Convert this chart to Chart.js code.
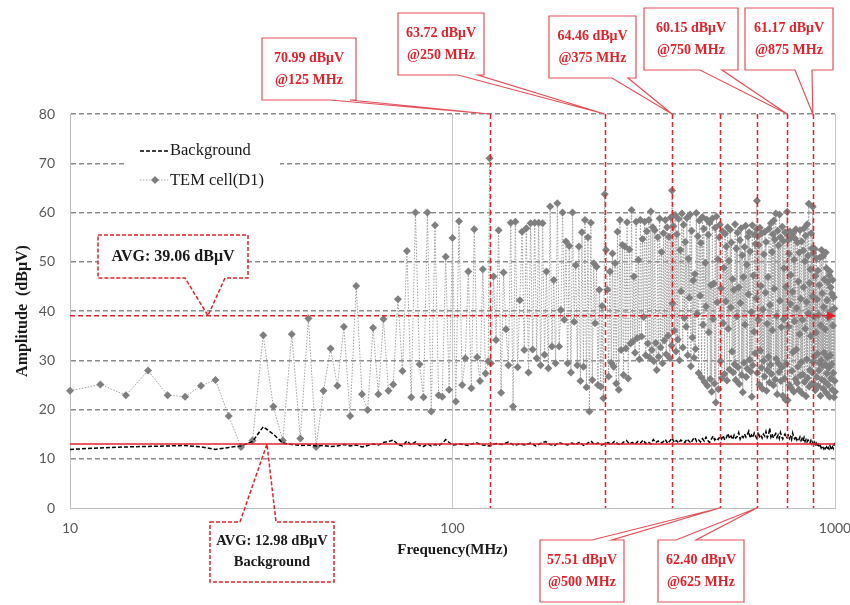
<!DOCTYPE html>
<html>
<head>
<meta charset="utf-8">
<title>TEM cell emission spectrum</title>
<script src="https://cdn.jsdelivr.net/npm/chart.js@4.4.1/dist/chart.umd.min.js"></script>
<style>
  html, body { margin: 0; padding: 0; background: #ffffff; }
  #wrap { width: 850px; height: 605px; position: relative; }
</style>
</head>
<body>
<div id="wrap"><canvas id="c" width="850" height="605"></canvas></div>
<script>
// ---- Sweep settings (MHz) ----
const temStart = 10, temStep = 2;     // TEM cell sweep, 10 .. 1000 MHz
const bgLowStart = 10, bgLowStep = 2; // background below 100 MHz
const bgHighStart = 105, bgHighStep = 5; // background above 100 MHz

// ---- TEM cell (D1) amplitude, dBuV, one value per sweep step ----
const temAmp = [
  23.8, 25.1, 22.9, 27.9, 22.9, 22.6, 24.8, 26.0, 18.7, 12.4,   // 10-28
  13.7, 35.1, 20.6, 13.7, 35.3, 14.1, 38.5, 12.4, 23.8, 32.4,   // 30-48
  24.8, 36.8, 18.7, 45.1, 23.1, 19.9, 36.6, 23.1, 38.4, 23.8,   // 50-68
  25.1, 42.4, 27.8, 52.2, 22.5, 60.0, 29.2, 22.5, 60.0, 19.6,   // 70-88
  57.4, 22.9, 22.6, 51.0, 24.0, 54.8, 21.6, 58.2, 25.0, 30.4,   // 90-108
  48.0, 24.3, 56.6, 30.6, 25.8, 48.5, 27.3, 29.8, 29.4, 47.0,   // 110-128
  34.1, 56.4, 23.4, 47.8, 36.3, 29.0, 57.9, 20.6, 58.1, 28.6,   // 130-148
  42.2, 56.1, 32.1, 56.8, 27.5, 57.8, 32.2, 57.9, 30.4, 57.9,   // 150-168
  29.0, 57.8, 31.1, 48.0, 28.4, 61.2, 32.8, 46.3, 29.4, 61.9,   // 170-188
  32.8, 40.2, 60.0, 38.2, 54.1, 29.4, 53.2, 27.5, 60.0, 37.8,   // 190-208
  49.3, 29.0, 53.1, 25.8, 56.0, 28.7, 58.5, 24.5, 55.0, 19.6,   // 210-228
  57.9, 26.0, 49.7, 37.5, 49.0, 25.0, 44.3, 24.6, 41.0, 22.3,   // 230-248
  63.72, 52.4, 44.3, 26.7, 48.0, 29.5, 51.7, 28.7, 49.7, 25.3,  // 250-268
  56.1, 24.0, 58.5, 32.1, 53.4, 27.0, 53.1, 32.4, 58.0, 26.3,   // 270-288
  52.5, 33.4, 60.5, 33.8, 47.0, 31.5, 58.1, 34.5, 50.4, 30.2,   // 290-308
  58.5, 34.8, 54.6, 38.8, 58.1, 31.0, 56.2, 33.4, 58.5, 30.5,   // 310-328
  60.2, 32.1, 57.0, 29.8, 56.4, 33.5, 28.0, 55.0, 30.7, 58.8,   // 330-348
  32.6, 52.0, 29.4, 55.8, 34.0, 58.5, 31.2, 57.0, 35.0, 55.1,   // 350-368
  30.4, 59.0, 33.0, 41.5, 57.2, 36.0, 59.5, 31.8, 55.6, 34.2,   // 370-388
  58.7, 30.0, 52.4, 44.0, 59.8, 32.6, 57.5, 38.6, 54.0, 36.8,   // 390-408
  58.9, 31.0, 50.6, 42.7, 59.6, 28.8, 56.3, 34.6, 46.2, 30.5,   // 410-428
  47.5, 32.3, 59.9, 39.4, 55.2, 27.4, 58.4, 43.1, 53.8, 26.5,   // 430-448
  59.1, 37.2, 56.7, 25.6, 49.8, 40.9, 58.6, 24.8, 55.5, 35.7,   // 450-468
  57.9, 26.2, 45.3, 23.6, 58.8, 38.4, 45.6, 25.3, 56.9, 21.4,   // 470-488
  59.2, 41.8, 50.5, 24.1, 55.0, 57.51, 29.8, 44.6, 26.4, 56.2,  // 490-508
  37.5, 48.8, 27.2, 55.7, 42.0, 53.1, 25.9, 57.0, 36.4, 50.2,   // 510-528
  28.1, 56.5, 40.7, 53.9, 31.8, 46.5, 27.5, 44.3, 29.2, 57.6,   // 530-548
  26.0, 52.7, 38.9, 55.9, 28.6, 44.8, 25.2, 54.4, 41.6, 56.8,   // 550-568
  27.0, 51.3, 23.5, 46.9, 29.5, 53.0, 37.2, 57.3, 26.6, 49.4,   // 570-588
  28.3, 55.1, 43.4, 56.0, 30.1, 52.1, 27.7, 39.8, 22.6, 57.4,   // 590-608
  29.0, 47.2, 35.8, 55.5, 31.4, 53.6, 42.6, 56.6, 27.4, 55.2,   // 610-628
  38.2, 53.4, 25.1, 56.9, 32.0, 45.1, 28.5, 55.8, 24.2, 40.3,   // 630-648
  29.9, 51.5, 26.7, 56.1, 43.7, 54.0, 23.8, 37.4, 28.0, 46.9,   // 650-668
  30.7, 56.7, 25.5, 41.2, 29.1, 57.8, 27.2, 52.0, 36.1, 55.6,   // 670-688
  24.9, 58.4, 44.5, 54.5, 26.1, 59.8, 30.3, 39.0, 23.1, 56.3,   // 690-708
  29.4, 53.3, 27.6, 59.6, 42.1, 55.0, 25.8, 36.7, 28.6, 57.1,   // 710-728
  22.8, 54.2, 38.3, 48.7, 26.3, 56.0, 22.0, 44.9, 29.3, 55.7,   // 730-748
  60.15, 21.9, 54.4, 36.8, 51.6, 25.0, 56.2, 41.4, 47.3, 24.3,  // 750-768
  55.0, 27.8, 43.9, 31.6, 55.9, 23.6, 50.4, 37.9, 54.7, 26.2,   // 770-788
  56.6, 32.2, 40.6, 25.4, 53.9, 28.7, 46.0, 24.0, 51.9, 35.3,   // 790-808
  56.4, 26.9, 42.5, 29.6, 54.1, 23.3, 38.2, 27.1, 52.3, 44.8,   // 810-828
  56.8, 25.6, 50.1, 36.4, 55.3, 22.7, 41.9, 30.2, 57.6, 26.4,   // 830-848
  51.2, 39.5, 61.8, 24.6, 45.7, 28.0, 48.5, 34.9, 55.8, 25.2,   // 850-868
  52.7, 27.5, 43.0, 29.6, 51.8, 25.3, 38.8, 30.8, 52.6, 23.9,   // 870-888
  47.1, 35.6, 50.7, 26.6, 42.4, 31.3, 48.2, 24.7, 39.2, 27.9,   // 890-908
  45.3, 29.4, 50.9, 22.8, 37.1, 30.0, 52.4, 26.1, 43.6, 28.9,   // 910-928
  51.1, 24.2, 40.8, 31.5, 46.4, 25.7, 36.3, 29.1, 51.9, 23.4,   // 930-948
  48.7, 27.3, 42.2, 30.6, 45.9, 25.0, 38.7, 28.5, 47.2, 22.6,   // 950-968
  48.0, 31.0, 44.8, 26.3, 40.1, 29.2, 43.5, 24.0, 46.3, 37.0,   // 970-988
  27.4, 42.8, 22.5, 40.5, 25.8, 23.6                            // 990-1000
];

// ---- Background amplitude, dBuV ----
const bgLowAmp = [
  11.9, 12.2, 12.4, 12.5, 12.6, 12.7, 12.4, 11.9, 12.3, 12.6,   // 10-28
  13.5, 16.5, 15.0, 13.2, 12.9, 12.7, 12.8, 12.6, 12.7, 12.5,   // 30-48
  12.6, 12.9, 12.6, 12.8, 12.4, 12.7, 13.0, 12.8, 13.3, 13.5,   // 50-68
  13.8, 12.9, 12.6, 13.6, 12.8, 13.4, 12.7, 12.5, 13.0, 12.6,   // 70-88
  12.9, 12.7, 13.1, 13.9, 13.3, 12.8                            // 90-100
];
const bgHighAmp = [
  13.0, 12.7, 13.3, 12.8, 12.6, 13.1, 12.9, 13.4, 12.7, 13.0,   // 105-150
  12.8, 13.2, 12.6, 13.1, 13.5, 12.9, 12.7, 13.3, 13.0, 12.8,   // 155-200
  13.2, 12.9, 13.4, 12.7, 13.1, 13.6, 12.9, 13.2, 12.8, 13.0,   // 205-250
  13.3, 12.9, 13.5, 13.1, 12.8, 13.4, 13.7, 13.0, 13.3, 12.9,   // 255-300
  13.5, 13.2, 13.8, 13.1, 13.4, 13.0, 13.9, 13.3, 13.6, 13.2,   // 305-350
  13.4, 13.9, 13.1, 13.6, 14.2, 13.3, 13.7, 13.2, 13.8, 13.5,   // 355-400
  13.3, 14.0, 13.6, 13.2, 13.9, 14.3, 13.5, 13.8, 13.4, 14.1,   // 405-450
  13.6, 14.4, 13.7, 13.3, 14.0, 14.6, 13.8, 14.2, 13.9, 14.5,   // 455-500
  14.0, 14.7, 13.8, 14.3, 15.1, 14.1, 14.6, 13.9, 14.8, 14.2,   // 505-550
  14.5, 15.3, 14.0, 14.7, 14.3, 15.0, 14.4, 14.9, 15.6, 14.2,   // 555-600
  14.8, 14.3, 15.2, 14.6, 14.1, 15.4, 14.5, 14.9, 14.2, 15.0,   // 605-650
  14.6, 15.5, 14.3, 14.8, 16.2, 14.4, 15.0, 14.2, 14.7, 15.1,   // 655-700
  14.3, 14.8, 14.1, 15.3, 14.5, 14.0, 14.6, 15.0, 14.2, 14.4,   // 705-750
  14.8, 14.1, 14.5, 13.9, 15.2, 14.3, 14.0, 14.6, 13.8, 14.2,   // 755-800
  13.9, 14.4, 13.7, 14.1, 13.6, 14.3, 13.5, 13.9, 13.4, 13.8,   // 805-850
  13.5, 13.2, 13.7, 13.0, 13.4, 12.8, 13.3, 12.6, 13.1, 12.5,   // 855-900
  12.9, 12.4, 12.7, 12.2, 12.6, 12.3, 12.0, 12.5, 12.1, 12.4,   // 905-950
  11.9, 12.3, 12.0, 12.6, 12.2, 11.8, 12.4, 12.1, 12.9, 13.2    // 955-1000
];

// ---- Marked peaks and averages ----
const peakFreq = [125, 250, 375, 500, 625, 750, 875];
const peakAmp  = [70.99, 63.72, 64.46, 57.51, 62.40, 60.15, 61.17];
const temAvg = 39.06;
const bgAvg = 12.98;

// ---- Axis ticks ----
const xTicks = [10, 100, 1000];
const yTicks = [0, 10, 20, 30, 40, 50, 60, 70, 80];

// ---- Build point lists ----
const temPts = temAmp.map((v, i) => ({ x: temStart + temStep * i, y: v }));
peakFreq.forEach((f, k) => {
  const hit = temPts.find(p => p.x === f);
  if (hit) hit.y = peakAmp[k];
  else temPts.push({ x: f, y: peakAmp[k] });
});
temPts.sort((a, b) => a.x - b.x);

const bgPts = bgLowAmp.map((v, i) => ({ x: bgLowStart + bgLowStep * i, y: v }))
  .concat(bgHighAmp.map((v, i) => ({ x: bgHighStart + bgHighStep * i, y: v })));

const RED = '#e2222b';
const BOX_RED = '#e4505a';
const SERIF = '"Liberation Serif", "Times New Roman", serif';

// Peak callout boxes: [left, top, width, height], wedge base along the box edge
const calloutLayout = {
  125: { box: [262, 38, 94, 62],  base: [330, 350], side: 'bottom' },
  250: { box: [398, 13, 86, 62],  base: [458, 478], side: 'bottom' },
  375: { box: [549, 16, 87, 62],  base: [612, 628], side: 'bottom' },
  750: { box: [644, 8, 94, 62],   base: [700, 722], side: 'bottom' },
  875: { box: [745, 8, 88, 62],   base: [795, 812], side: 'bottom' },
  500: { box: [540, 540, 84, 62], base: [592, 612], side: 'top' },
  625: { box: [658, 540, 86, 62], base: [676, 696], side: 'top' }
};

function calloutOutline(ctx, bx, by, bw, bh, side, b1, b2, ax, ay) {
  ctx.beginPath();
  if (side === 'bottom') {
    ctx.moveTo(bx, by); ctx.lineTo(bx + bw, by); ctx.lineTo(bx + bw, by + bh);
    ctx.lineTo(b2, by + bh); ctx.lineTo(ax, ay); ctx.lineTo(b1, by + bh);
    ctx.lineTo(bx, by + bh); ctx.closePath();
  } else {
    ctx.moveTo(bx, by); ctx.lineTo(b1, by); ctx.lineTo(ax, ay); ctx.lineTo(b2, by);
    ctx.lineTo(bx + bw, by); ctx.lineTo(bx + bw, by + bh); ctx.lineTo(bx, by + bh);
    ctx.closePath();
  }
}

function drawCallout(ctx, lay, ax, ay, lines, opts) {
  const [bx, by, bw, bh] = lay.box;
  ctx.save();
  ctx.fillStyle = '#ffffff';
  ctx.fillRect(bx, by, bw, bh);
  ctx.strokeStyle = opts.stroke;
  ctx.lineWidth = opts.lineWidth;
  ctx.setLineDash(opts.dash || []);
  calloutOutline(ctx, bx, by, bw, bh, lay.side, lay.base[0], lay.base[1], ax, ay);
  ctx.stroke();
  ctx.setLineDash([]);
  ctx.fillStyle = opts.color;
  ctx.font = opts.font;
  ctx.textAlign = 'center';
  ctx.textBaseline = 'middle';
  const cx = bx + bw / 2, cy = by + bh / 2;
  const gap = opts.lineGap;
  lines.forEach((t, i) => {
    ctx.fillText(t, cx, cy + (i - (lines.length - 1) / 2) * gap);
  });
  ctx.restore();
}

// Vertical markers at the peak frequencies and the arrow head on the average line
const markerPlugin = {
  id: 'markers',
  afterDatasetsDraw(chart) {
    const { ctx, chartArea, scales } = chart;
    ctx.save();
    ctx.strokeStyle = RED;
    ctx.lineWidth = 1.5;
    ctx.setLineDash([5, 3]);
    peakFreq.forEach(f => {
      const x = Math.round(scales.x.getPixelForValue(f)) + 0.5;
      ctx.beginPath();
      ctx.moveTo(x, chartArea.top);
      ctx.lineTo(x, chartArea.bottom);
      ctx.stroke();
    });
    ctx.setLineDash([]);
    const ya = scales.y.getPixelForValue(temAvg);
    const xr = chartArea.right;
    ctx.fillStyle = RED;
    ctx.beginPath();
    ctx.moveTo(xr + 1, ya);
    ctx.lineTo(xr - 8, ya - 4.5);
    ctx.lineTo(xr - 8, ya + 4.5);
    ctx.closePath();
    ctx.fill();
    ctx.restore();
  }
};

// Legend inside the plot plus the callout labels
const labelPlugin = {
  id: 'labels',
  afterDraw(chart) {
    const { ctx, chartArea, scales } = chart;

    // legend
    ctx.save();
    ctx.fillStyle = '#ffffff';
    ctx.fillRect(124, 134, 156, 60);
    ctx.lineWidth = 1.5;
    ctx.strokeStyle = '#000000';
    ctx.setLineDash([4, 2]);
    ctx.beginPath(); ctx.moveTo(140, 151); ctx.lineTo(168, 151); ctx.stroke();
    ctx.strokeStyle = '#a0a0a0';
    ctx.lineWidth = 1;
    ctx.setLineDash([1.5, 1.5]);
    ctx.beginPath(); ctx.moveTo(140, 180); ctx.lineTo(168, 180); ctx.stroke();
    ctx.setLineDash([]);
    ctx.fillStyle = '#7f7f7f';
    ctx.beginPath();
    ctx.moveTo(155, 176); ctx.lineTo(159, 180); ctx.lineTo(155, 184); ctx.lineTo(151, 180);
    ctx.closePath(); ctx.fill();
    ctx.fillStyle = '#1a1a1a';
    ctx.font = '16.5px ' + SERIF;
    ctx.textAlign = 'left';
    ctx.textBaseline = 'middle';
    ctx.fillText(chart.data.datasets[1].label, 170, 151);
    ctx.fillText(chart.data.datasets[0].label, 170, 181);
    ctx.restore();

    // peak callouts
    peakFreq.forEach((f, k) => {
      const lay = calloutLayout[f];
      const ax = scales.x.getPixelForValue(f);
      const ay = lay.side === 'bottom' ? chartArea.top : chartArea.bottom;
      drawCallout(ctx, lay, ax, ay,
        [peakAmp[k].toFixed(2) + ' dBμV', '@' + f + ' MHz'],
        { stroke: BOX_RED, lineWidth: 1.2, color: RED, font: 'bold 14px ' + SERIF, lineGap: 22 });
    });

    // average callouts
    drawCallout(ctx, { box: [98, 235, 150, 43], base: [185, 225], side: 'bottom' },
      208, scales.y.getPixelForValue(temAvg),
      ['AVG: ' + temAvg.toFixed(2) + ' dBμV'],
      { stroke: RED, lineWidth: 1.5, dash: [4, 2], color: '#1a1a1a', font: 'bold 16px ' + SERIF, lineGap: 20 });
    drawCallout(ctx, { box: [210, 522, 124, 60], base: [240, 276], side: 'top' },
      267, scales.y.getPixelForValue(bgAvg),
      ['AVG: ' + bgAvg.toFixed(2) + ' dBμV', 'Background'],
      { stroke: RED, lineWidth: 1.5, dash: [4, 2], color: '#1a1a1a', font: 'bold 14.5px ' + SERIF, lineGap: 21 });
  }
};

new Chart(document.getElementById('c'), {
  type: 'line',
  data: {
    datasets: [
      {
        label: 'TEM cell(D1)', data: temPts,
        borderColor: '#a0a0a0', borderWidth: 1, borderDash: [1.5, 1.5],
        pointStyle: 'rectRot', pointRadius: 4, pointBackgroundColor: '#7f7f7f',
        pointBorderWidth: 0, tension: 0, order: 3, clip: false
      },
      {
        label: 'Background', data: bgPts,
        borderColor: '#000000', borderWidth: 1.5, borderDash: [4, 2],
        pointRadius: 0, tension: 0, order: 2
      },
      {
        label: 'TEM average', data: [{ x: 10, y: temAvg }, { x: 1000, y: temAvg }],
        borderColor: RED, borderWidth: 1.5, borderDash: [5, 3], pointRadius: 0, order: 1
      },
      {
        label: 'Background average', data: [{ x: 10, y: bgAvg }, { x: 1000, y: bgAvg }],
        borderColor: RED, borderWidth: 1.5, pointRadius: 0, order: 1
      }
    ]
  },
  options: {
    responsive: false,
    animation: false,
    devicePixelRatio: 1,
    layout: { padding: { top: 114, right: 15, left: 0, bottom: 0 } },
    plugins: { legend: { display: false }, tooltip: { enabled: false } },
    scales: {
      x: {
        type: 'logarithmic', min: 10, max: 1000,
        afterBuildTicks: s => { s.ticks = xTicks.map(v => ({ value: v })); },
        afterFit: s => { s.height = 97; s.paddingLeft = 0; s.paddingRight = 0; },
        ticks: {
          callback: v => String(v), autoSkip: false, maxRotation: 0, padding: 12,
          color: '#595959', font: { family: 'Lato', size: 14 }
        },
        grid: {
          drawTicks: false, lineWidth: 1,
          color: c => (c.tick && c.tick.value > 10) ? '#c8c8c8' : 'rgba(0,0,0,0)'
        },
        border: { color: '#bfbfbf', width: 1 },
        title: {
          display: true, text: 'Frequency(MHz)', color: '#1a1a1a',
          font: { family: 'Liberation Serif', size: 15, weight: 'bold' },
          padding: { top: 0, bottom: 46 }
        }
      },
      y: {
        min: 0, max: 80,
        afterBuildTicks: s => { s.ticks = yTicks.map(v => ({ value: v })); },
        afterFit: s => { s.width = 70; s.paddingTop = 0; s.paddingBottom = 0; },
        ticks: { color: '#595959', font: { family: 'Lato', size: 14 }, padding: 15 },
        grid: {
          drawTicks: false, lineWidth: 1.4,
          color: c => (c.tick && c.tick.value === 0) ? 'rgba(0,0,0,0)' : '#8c8c8c'
        },
        border: { color: '#bfbfbf', width: 1, dash: [5, 3] },
        title: {
          display: true, text: 'Amplitude  (dBμV)', color: '#1a1a1a',
          font: { family: 'Liberation Serif', size: 16, weight: 'bold' },
          padding: { top: 13, bottom: 0 }
        }
      }
    }
  },
  plugins: [markerPlugin, labelPlugin]
});
</script>
</body>
</html>
